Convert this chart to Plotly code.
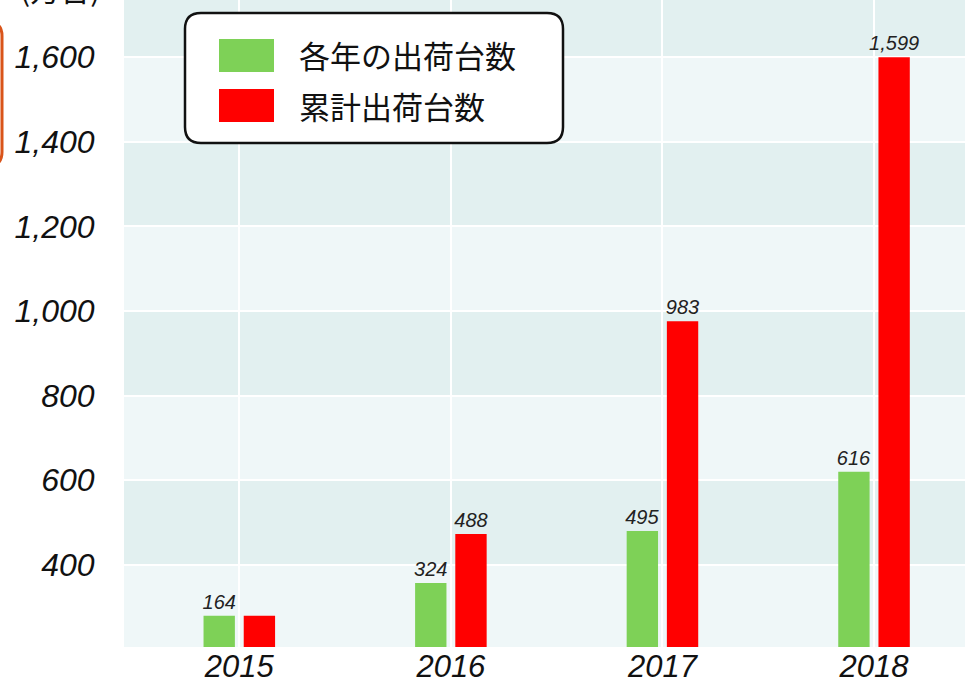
import plotly.graph_objects as go

# ---- data ----
years = ["2015", "2016", "2017", "2018"]
annual_values = [164, 324, 495, 616]            # printed labels (green)
cumulative_values = [164, 488, 983, 1599]       # printed labels (red)
annual_bar_heights = [280, 357, 480, 620]       # bar tops as drawn on the axis
cumulative_bar_heights = [280, 473, 976, 1600]  # bar tops as drawn on the axis
cumulative_label_shown = [False, True, True, True]
y_tick_values = [400, 600, 800, 1000, 1200, 1400, 1600]
series_names = ["各年の出荷台数", "累計出荷台数"]
unit_label = "(万台)"

W, H = 965, 683
ML, MR, MT, MB = 124, 0, 0, 36
PW, PH = W - ML - MR, H - MT - MB


def px_x(px):
    return (px - ML) / PW


def px_y(py):
    return (H - MB - py) / PH


GREEN = "#7ed157"
RED = "#ff0000"
LIGHT = "#eff7f8"
DARK = "#e2f0f0"
NUMFONT = "Liberation Sans"
CJK = "Noto Sans CJK JP"

fig = go.Figure()
fig.add_trace(go.Bar(
    x=years, y=annual_bar_heights, name=series_names[0],
    marker=dict(color=GREEN, line=dict(width=0)),
    text=[f"{v:,}" for v in annual_values], textposition="outside",
    textfont=dict(family=NUMFONT, size=20, color="#222222", style="italic"),
    constraintext="none", cliponaxis=False,
))
fig.add_trace(go.Bar(
    x=years, y=cumulative_bar_heights, name=series_names[1],
    marker=dict(color=RED, line=dict(width=0)),
    text=[f"{v:,}" if s else "" for v, s in zip(cumulative_values, cumulative_label_shown)],
    textposition="outside",
    textfont=dict(family=NUMFONT, size=20, color="#222222", style="italic"),
    constraintext="none", cliponaxis=False,
))

y_min, y_max = 206, 1735
shapes = []
# alternating background bands
band_edges = [y_min] + y_tick_values + [y_max]
for i in range(len(band_edges) - 1):
    lo, hi = band_edges[i], band_edges[i + 1]
    if lo in (400, 800, 1200, 1600):
        shapes.append(dict(type="rect", xref="paper", yref="y", x0=0, x1=1, y0=lo, y1=hi,
                           fillcolor=DARK, line=dict(width=0), layer="below"))


def rounded_rect(x0, y0, x1, y1, r):
    # pixel coordinates -> paper path
    rx, ry = r / PW, r / PH
    a, b = px_x(x0), px_x(x1)
    t, bt = px_y(y0), px_y(y1)
    return (f"M{a+rx},{t} L{b-rx},{t} Q{b},{t} {b},{t-ry} "
            f"L{b},{bt+ry} Q{b},{bt} {b-rx},{bt} "
            f"L{a+rx},{bt} Q{a},{bt} {a},{bt+ry} "
            f"L{a},{t-ry} Q{a},{t} {a+rx},{t} Z")


# legend box
shapes.append(dict(type="path", xref="paper", yref="paper",
                   path=rounded_rect(185, 13, 563, 143, 16),
                   fillcolor="white", line=dict(color="#111111", width=2.5), layer="above"))
# legend swatches
for (ya, yb), col in [((39, 72), GREEN), ((89, 122), RED)]:
    shapes.append(dict(type="rect", xref="paper", yref="paper",
                       x0=px_x(219), x1=px_x(274), y0=px_y(yb), y1=px_y(ya),
                       fillcolor=col, line=dict(width=0), layer="above"))
# orange box edge at far left (cropped)
shapes.append(dict(type="path", xref="paper", yref="paper",
                   path=rounded_rect(-120, 22, 2, 166, 14),
                   fillcolor="rgba(0,0,0,0)", line=dict(color="#d9541a", width=3), layer="above"))

annotations = []
for name, yc in zip(series_names, [55, 105]):
    annotations.append(dict(x=px_x(297), y=px_y(yc), xref="paper", yref="paper",
                            text=name, showarrow=False, xanchor="left", yanchor="middle",
                            font=dict(family=CJK, size=31, color="#111111")))
annotations.append(dict(x=px_x(60), y=px_y(-12), xref="paper", yref="paper",
                        text=unit_label, showarrow=False, xanchor="center", yanchor="middle",
                        font=dict(family=CJK, size=30, color="#111111")))

fig.update_layout(
    width=W, height=H,
    margin=dict(l=ML, r=MR, t=MT, b=MB, pad=0, autoexpand=False),
    paper_bgcolor="white", plot_bgcolor=LIGHT,
    barmode="group", bargap=0.62, bargroupgap=0.22,
    showlegend=False,
    shapes=shapes, annotations=annotations,
    font=dict(family=NUMFONT, color="#111111"),
)
fig.update_xaxes(
    type="category", range=[-0.545, 3.43], automargin=False,
    showgrid=True, gridcolor="white", gridwidth=2,
    showline=False, zeroline=False,
    ticks="", ticklabelstandoff=-2,
    tickfont=dict(family=NUMFONT, size=31, color="#111111", style="italic"),
)
fig.update_yaxes(
    range=[y_min, y_max], tickvals=y_tick_values, tickformat=",", automargin=False,
    showgrid=True, gridcolor="white", gridwidth=2,
    showline=False, zeroline=False,
    ticks="outside", ticklen=22, tickcolor="rgba(0,0,0,0)",
    tickfont=dict(family=NUMFONT, size=32, color="#111111", style="italic"),
)

fig.write_html(
    "out.html",
    config={"displayModeBar": False},
    post_script="document.body.style.margin='0';document.body.style.padding='0';",
)
